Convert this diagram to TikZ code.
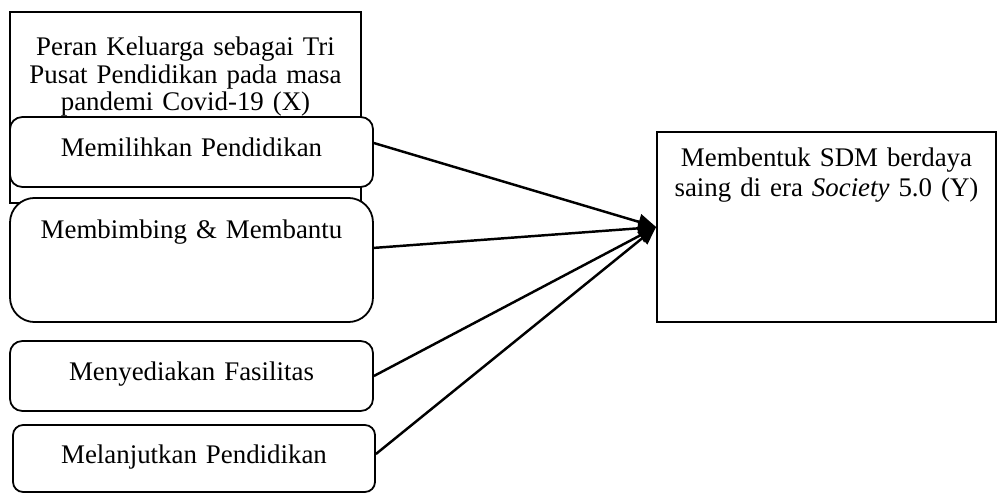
\documentclass[tikz,border=0pt]{standalone}
\usepackage{fontspec}
\setmainfont{Liberation Serif}
\usetikzlibrary{arrows.meta}
\newcommand\pxu{0.4464pt}

\begin{document}
\begin{tikzpicture}[x=0.4464pt,y=0.4464pt,
  box/.style={draw,line width=0.8pt,inner sep=0pt,align=center,fill=white,
    font=\fontsize{12}{12.2}\selectfont},
  link/.style={line width=1.1pt,-{Triangle[length=8pt,width=7pt]}}]
\useasboundingbox (0,0) rectangle (997,493);
% variabel X
\node[box,text width=351*\pxu,text height=19.6pt,text depth=65.7pt] (peran) at (185.5,385.5)
  {Peran Keluarga sebagai Tri\\Pusat Pendidikan pada masa\\pandemi Covid-19 (X)};
% indikator
\node[box,rounded corners=5.4pt,text width=363*\pxu,text height=17.4pt,text depth=13.8pt] (pilih) at (191.5,341) {Memilihkan Pendidikan};
\node[box,rounded corners=11pt,text width=363*\pxu,text height=18.3pt,text depth=37.1pt] (bimbing) at (191.5,233) {Membimbing \& Membantu};
\node[box,rounded corners=5.4pt,text width=363*\pxu,text height=17.4pt,text depth=13.8pt] (fasilitas) at (191.5,117) {Menyediakan Fasilitas};
\node[box,rounded corners=4.5pt,text width=362*\pxu,text height=17.4pt,text depth=12.5pt] (lanjut) at (194,34.5) {Melanjutkan Pendidikan};
% variabel Y
\node[box,text width=339*\pxu,text height=15.6pt,text depth=69.2pt,
  font=\fontsize{12}{13.4}\selectfont] (sdm) at (826.5,266)
  {Membentuk SDM berdaya\\saing di era \textit{Society} 5.0 (Y)};
\draw[link] ([yshift=4pt]pilih.east) -- (sdm.west);
\draw[link] ([yshift=5.4pt]bimbing.east) -- (sdm.west);
\draw[link] (fasilitas.east) -- (sdm.west);
\draw[link] ([yshift=2pt]lanjut.east) -- (sdm.west);
\end{tikzpicture}
\end{document}
